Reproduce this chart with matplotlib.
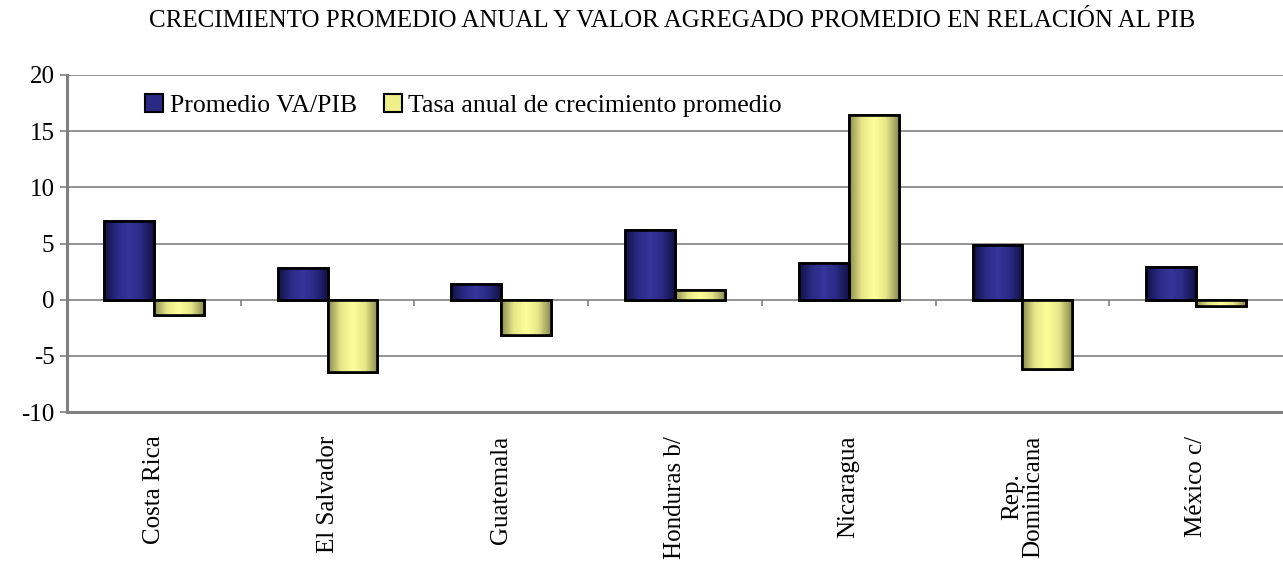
import numpy as np
import matplotlib
matplotlib.use("Agg")
import matplotlib.pyplot as plt
from matplotlib.colors import LinearSegmentedColormap
from matplotlib.patches import Rectangle

plt.rcParams['font.family'] = ['Liberation Serif', 'DejaVu Serif']

title = "CRECIMIENTO PROMEDIO ANUAL Y VALOR AGREGADO PROMEDIO EN RELACIÓN AL PIB"
categories = ["Costa Rica", "El Salvador", "Guatemala", "Honduras b/",
              "Nicaragua", "Rep.\nDominicana", "México c/"]
va_pib = [7.0, 2.8, 1.4, 6.2, 3.3, 4.9, 2.9]
tasa = [-1.4, -6.45, -3.1, 0.9, 16.4, -6.2, -0.55]
series_names = ["Promedio VA/PIB", "Tasa anual de crecimiento promedio"]
yticks = [-10, -5, 0, 5, 10, 15, 20]

blue_cmap = LinearSegmentedColormap.from_list(
    "b", ["#121245", "#2a2a85", "#35359c", "#2a2a85", "#121245"])
yel_cmap = LinearSegmentedColormap.from_list(
    "y", ["#8c8c55", "#e6e688", "#ffff99", "#e6e688", "#8c8c55"])

fig = plt.figure(figsize=(12.83, 5.66), dpi=100)
ax = fig.add_axes([0.0522, 0.272, 0.9478, 0.5955])

x = np.arange(len(categories))
w = 0.287
grad = np.linspace(0, 1, 64).reshape(1, -1)

def draw(xs, vals, color, cmap, label):
    bars = ax.bar(xs, vals, width=w, color=color, edgecolor='black',
                  linewidth=1.9, label=label, zorder=3)
    for b in bars:
        x0, y0 = b.get_x(), b.get_y()
        bw, bh = b.get_width(), b.get_height()
        im = ax.imshow(grad, cmap=cmap, aspect='auto',
                       extent=(x0, x0 + bw, min(y0, y0 + bh), max(y0, y0 + bh)),
                       zorder=3.5, interpolation='bilinear')
        im.set_clip_path(b)
        r = Rectangle((x0, y0), bw, bh, fill=False, edgecolor='black',
                      linewidth=1.9, zorder=4)
        ax.add_patch(r)
    return bars

draw(x - w / 2, va_pib, "#2a2a85", blue_cmap, series_names[0])
draw(x + w / 2, tasa, "#eeee8a", yel_cmap, series_names[1])

ax.set_xlim(-0.5, len(categories) - 0.5)
ax.set_ylim(-10, 20)
ax.set_yticks(yticks)
ax.set_yticklabels([str(t) for t in yticks], fontsize=18)
ax.yaxis.grid(True, color='#808080', linewidth=1.2, zorder=0)
ax.set_axisbelow(True)

ax.set_xticks(x)
ax.set_xticklabels(categories, rotation=90, fontsize=18, va='top',
                   ha='center', multialignment='center', linespacing=0.95)
ax.tick_params(axis='x', length=0, pad=17)
ax.tick_params(axis='y', length=5, color='#808080', width=1.2, pad=4)

# category boundary tick marks on the zero line
bounds = np.arange(len(categories) - 1) + 0.5
ax.vlines(bounds, -0.55, 0, color='#808080', linewidth=1.2, zorder=2)

for s in ['top', 'right']:
    ax.spines[s].set_visible(False)
for s in ['left', 'bottom']:
    ax.spines[s].set_color('#808080')
    ax.spines[s].set_linewidth(2.2)

leg = ax.legend(loc='upper left', bbox_to_anchor=(0.056, 0.975), ncol=2,
                frameon=False, fontsize=18.5, handlelength=0.7,
                handleheight=0.7, handletextpad=0.25, columnspacing=1.05,
                borderaxespad=0)
for h in leg.legend_handles:
    h.set_linewidth(1.5)

fig.text(0.524, 0.963, title, ha='center', va='center', fontsize=18)

fig.savefig("out.png", dpi=100)
